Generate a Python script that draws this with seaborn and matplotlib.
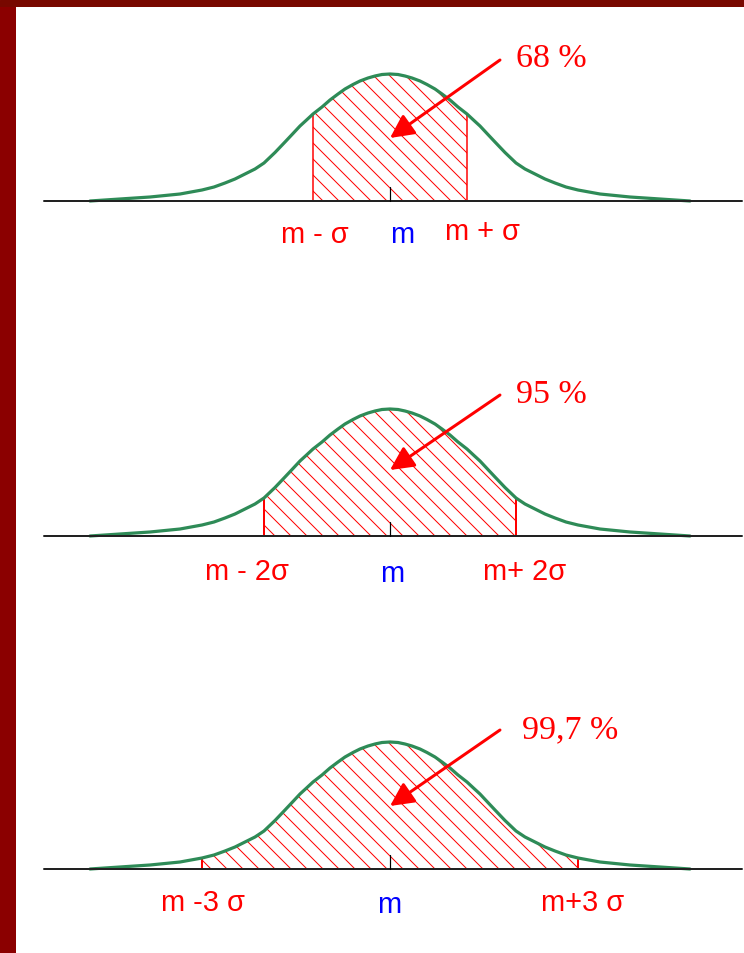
import numpy as np
import pandas as pd
import matplotlib.pyplot as plt
import seaborn as sns
from matplotlib.patches import Rectangle

# bell curve: offset from the mean and height above the baseline (px)
curve_dx = [0, 8, 15, 22, 30, 37, 45, 52, 60, 68, 77, 84, 90, 97, 105, 115, 126,
            135, 145, 155, 165, 176, 188, 199, 210, 225, 240, 255, 270, 285, 300]
curve_h = [127, 126.5, 125, 123, 120, 116.5, 112, 107, 101, 94, 87, 80.5, 75, 67.5, 59, 48.5, 38,
           32, 27, 22, 18, 14, 11, 9, 7, 5.5, 4, 3, 2, 1, 0]

# where the shaded area stops in each panel (1, 2, 3 sigma)
sigma_bounds = [77, 126, 188]
pct_text = ['68 %', '95 %', '99,7 %']
left_labels = ['m - σ', 'm - 2σ', 'm -3 σ']
mid_labels = ['m', 'm', 'm']
right_labels = ['m + σ', 'm+ 2σ', 'm+3 σ']

sns.set_theme(style='white')
plt.rcParams['font.family'] = ['Liberation Sans', 'DejaVu Sans']

W, H = 744, 953
fig = plt.figure(figsize=(W / 72, H / 72), dpi=72)
fig.patch.set_facecolor('white')

# dark red frame on the left and top
fig.patches.append(Rectangle((0, 0), 15 / W, 1, transform=fig.transFigure, color='#8b0000', zorder=0))
fig.patches.append(Rectangle((0, 1 - 6 / H), 1, 6 / H, transform=fig.transFigure, color='#780800', zorder=0))

dx = np.array(curve_dx)
x = np.concatenate([-dx[::-1], dx[1:]])
y = np.concatenate([np.array(curve_h)[::-1], np.array(curve_h)[1:]])
df = pd.DataFrame({'x': x, 'y': y})

baselines = [201, 536, 869]
left_pos = [(-75, -34), (-143, -36), (-187, -34)]
mid_pos = [(12, -34), (2, -38), (-1, -36)]
right_pos = [(92, -31), (135, -36), (193, -34)]
pct_pos = [(126, 142), (126, 141), (132, 139)]
arrow_tail = [(110, 141), (110, 141), (110, 139)]
arrow_head = [(0, 63), (0, 66), (0, 63)]

for i in range(3):
    base = baselines[i]
    ax = fig.add_axes([0, 1 - (base + 70) / H, 1, 240 / H])
    ax.set_xlim(-390, 354)
    ax.set_ylim(-70, 170)
    ax.axis('off')

    b = sigma_bounds[i]
    sel = df[df['x'].abs() <= b]
    area = ax.fill_between(sel['x'], 0, sel['y'], facecolor='none', linewidth=0)
    clip = area.get_paths()[0]
    # diagonal red hatching, 16 px apart
    for c in np.arange(-3 - 16 * 15, b + 160, 16):
        ln, = ax.plot([c - 150, c], [150, 0], color='red', lw=1)
        ln.set_clip_path(clip, ax.transData)
    yb = df.loc[df['x'] == b, 'y'].iloc[0]
    ax.vlines([-b, b], 0, yb, color='red', lw=2 if i else 1.5)

    sns.lineplot(data=df, x='x', y='y', ax=ax, color='#2e8b57', lw=3.2, legend=False)
    ax.plot([-346, 352], [0, 0], color='#222222', lw=2)
    ax.plot([0, 0], [0, 14], color='black', lw=1.2)

    ax.annotate('', xy=arrow_head[i], xytext=arrow_tail[i],
                arrowprops=dict(arrowstyle='-|>,head_length=0.9,head_width=0.45',
                                color='red', lw=3, mutation_scale=22,
                                shrinkA=0, shrinkB=0))
    ax.text(*pct_pos[i], pct_text[i], color='red', fontsize=34,
            family='Liberation Serif', ha='left', va='center')

    ax.text(*left_pos[i], left_labels[i], color='red', fontsize=29, ha='center', va='center')
    ax.text(*mid_pos[i], mid_labels[i], color='blue', fontsize=29, ha='center', va='center')
    ax.text(*right_pos[i], right_labels[i], color='red', fontsize=29, ha='center', va='center')

fig.savefig('out.png', dpi=72, facecolor=fig.get_facecolor())
